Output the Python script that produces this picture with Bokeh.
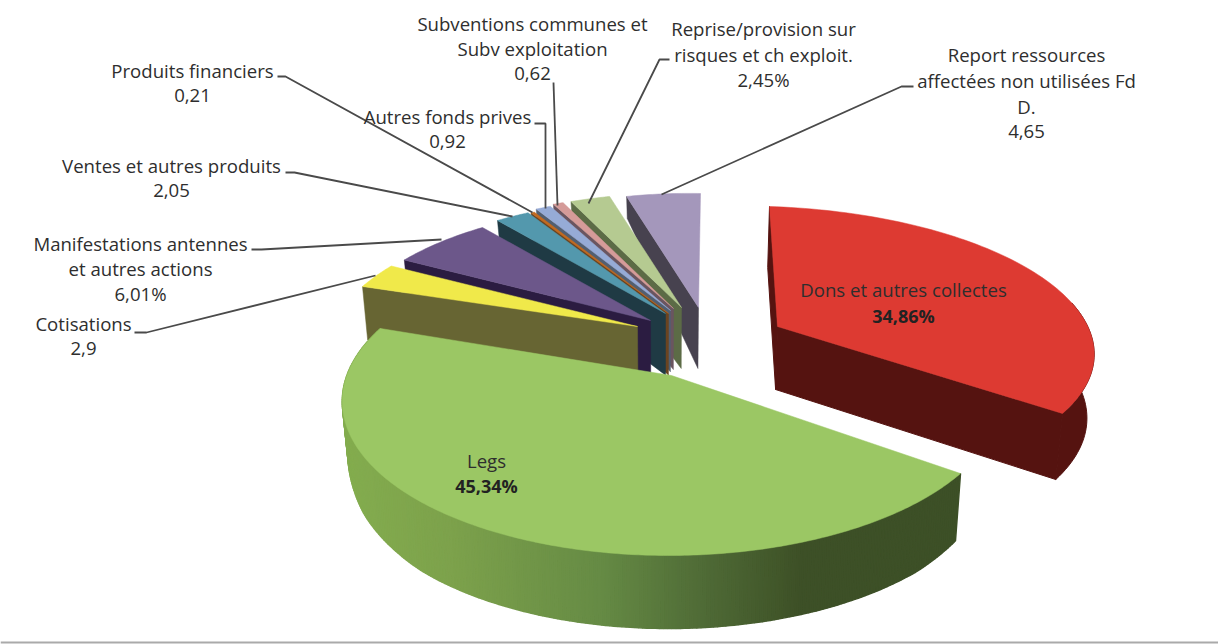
import numpy as np
from bokeh.plotting import figure
from bokeh.models import Range1d
from bokeh.core.properties import value
from bokeh.embed import file_html
from bokeh.resources import INLINE

# ---- data -------------------------------------------------------------
names = ["Dons", "Legs", "Cotisations", "Manifestations", "Ventes", "Produits financiers",
         "Autres fonds", "Subventions", "Reprise", "Report"]
shares = [34.86, 45.34, 2.90, 6.01, 2.05, 0.21, 0.92, 0.62, 2.45, 4.65]
top_colors = ["#dd3a32", "#9bc764", "#f0e94a", "#6c578a", "#5398ad", "#c36a1f",
              "#96abd6", "#d59b99", "#b5ca91", "#a497bb"]
side_colors = ["#551310", "#3d5027", "#676533", "#2b1c41", "#1f3a44", "#6b4420",
               "#525f70", "#6a5560", "#5c6b46", "#47424f"]

# ---- layout (reference pixels) ------------------------------------------
W, H = 1218, 644
cum = np.cumsum([0] + shares) / sum(shares) * 360.0
start = dict(zip(names, cum[:-1]))
end = dict(zip(names, cum[1:]))
idx = {n: i for i, n in enumerate(names)}


def circ(deg):
    t = np.radians(deg)
    return (np.sin(t), np.cos(t))


def fit(pairs):
    A, b = [], []
    for (u, v), (x, y) in pairs:
        A.append([u, v, 1, 0, 0, 0, -u * x, -v * x]); b.append(x)
        A.append([0, 0, 0, u, v, 1, -u * y, -v * y]); b.append(y)
    h = np.linalg.solve(np.array(A, float), np.array(b, float))
    return np.append(h, 1).reshape(3, 3)


def rim(Hm, a0, a1, n):
    t = np.linspace(a0, a1, n)
    u, v = circ(t)
    w = Hm[2, 0] * u + Hm[2, 1] * v + Hm[2, 2]
    return (Hm[0, 0] * u + Hm[0, 1] * v + Hm[0, 2]) / w, (Hm[1, 0] * u + Hm[1, 1] * v + Hm[1, 2]) / w


def drop(x, y, ys, ds):
    return x + 0.017 * (665 - np.asarray(x, float)), y + np.interp(y, ys, ds)


p = figure(width=W, height=H, output_backend="svg", toolbar_location=None,
           x_range=Range1d(0, W), y_range=Range1d(H, 0), x_axis_type=None, y_axis_type=None,
           min_border=0, outline_line_color=None, background_fill_color="white",
           border_fill_color="white")
p.grid.visible = False

# ---- fan of small exploded slices, back to front ------------------------
fan_H = fit([((0, 0), (0, 0)), (circ(end["Legs"]), (-275, -40)),
             (circ(end["Manifestations"]), (-168, -93)), (circ(360), (2, -114))])
fan_apex = {"Cotisations": (637, 326), "Manifestations": (650, 320), "Ventes": (665, 313),
            "Produits financiers": (668, 313), "Autres fonds": (670, 310), "Subventions": (673, 308),
            "Reprise": (681, 307), "Report": (698, 307)}
fan_y, fan_d = [198, 307, 326, 400], [22, 61, 63, 66]
for n in names[:1:-1]:
    i = idx[n]
    ax, ay = fan_apex[n]
    rx, ry = rim(fan_H, start[n], end[n], 24)
    rx, ry = rx + ax, ry + ay
    ends_x, ends_y = np.array([rx[0], ax]), np.array([ry[0], ay])
    bx, by = drop(ends_x, ends_y, fan_y, fan_d)
    p.patch(list(ends_x) + list(bx[::-1]), list(ends_y) + list(by[::-1]),
            fill_color=side_colors[i], line_color=side_colors[i], line_width=0.5)
    p.patch([ax] + list(rx), [ay] + list(ry), fill_color=top_colors[i], line_color=top_colors[i], line_width=0.5)

# ---- Dons ---------------------------------------------------------------
n = "Dons"
dons_H = fit([((0, 0), (777, 326)), (circ(start[n]), (769, 206)),
              (circ(90), (1089, 330)), (circ(end[n]), (1062, 413))])
rx, ry = rim(dons_H, start[n], end[n], 90)
ay0, ax0 = 326, 777
d_y, d_d = [206, 326, 413], [61, 63, 66]
bx, by = drop(rx, ry, d_y, d_d)
bax, bay = drop(np.array([ax0]), np.array([ay0]), d_y, d_d)
p.patch([rx[0], ax0, bax[0], bx[0]], [ry[0], ay0, bay[0], by[0]],
        fill_color=side_colors[0], line_color=side_colors[0], line_width=1)
p.patch([ax0, rx[-1], bx[-1], bax[0]], [ay0, ry[-1], by[-1], bay[0]],
        fill_color=side_colors[0], line_color=side_colors[0], line_width=1)
keep = ry > 300
p.patch(list(rx[keep]) + list(bx[keep][::-1]), list(ry[keep]) + list(by[keep][::-1]),
        fill_color=side_colors[0], line_color=side_colors[0], line_width=1)
p.patch([ax0] + list(rx), [ay0] + list(ry), fill_color=top_colors[0], line_color=top_colors[0], line_width=0.5)

# ---- Legs with its shaded outer wall ------------------------------------
n = "Legs"
legs_H = fit([((0, 0), (671, 375)), (circ(start[n]), (960, 473)),
              (circ(180), (665, 555)), (circ(end[n]), (380, 328))])
rx, ry = rim(legs_H, start[n], end[n], 260)
l_y, l_d = [330, 400, 450, 500, 555], [32, 50, 64, 71, 73]
bx, by = drop(rx, ry, l_y, l_d)
grad_x = [340, 450, 600, 700, 800, 960]
grad_c = np.array([[0x84, 0xad, 0x4f], [0x7d, 0xa2, 0x4c], [0x66, 0x8b, 0x45],
                   [0x50, 0x6c, 0x37], [0x3e, 0x51, 0x27], [0x3d, 0x50, 0x27]], float)
qx, qy, qc = [], [], []
for k in range(len(rx) - 1):
    qx.append([rx[k], rx[k + 1], bx[k + 1], bx[k]])
    qy.append([ry[k], ry[k + 1], by[k + 1], by[k]])
    mx = (rx[k] + rx[k + 1]) / 2
    c = [int(np.interp(mx, grad_x, grad_c[:, j])) for j in range(3)]
    qc.append("#%02x%02x%02x" % tuple(c))
p.patches(qx, qy, fill_color=qc, line_color=qc, line_width=1.5)
p.patch([671] + list(rx), [375] + list(ry), fill_color=top_colors[1], line_color=top_colors[1], line_width=0.5)

# ---- leader lines -------------------------------------------------------
leaders = [
    ([277, 285, 532], [76, 76, 212]),
    ([534, 545, 545], [123, 123, 208]),
    ([553, 557], [82, 205]),
    ([285, 294, 512], [172, 172, 216]),
    ([251, 261, 441], [249, 249, 239]),
    ([134, 146, 375], [332, 332, 275]),
    ([669, 659, 588], [59, 59, 203]),
    ([913, 901, 661], [86, 86, 194]),
]
for lx, ly in leaders:
    p.line(lx, ly, line_color="#4a4a4a", line_width=1.8)

# ---- texts --------------------------------------------------------------
labels = [
    (192, 70, "Produits financiers"), (192, 95, "0,21"),
    (532, 23, "Subventions communes et"), (532, 48, "Subv exploitation"), (532, 73, "0,62"),
    (447, 116, "Autres fonds prives"), (447, 141, "0,92"),
    (171, 165, "Ventes et autres produits"), (171, 190, "2,05"),
    (140, 243, "Manifestations antennes"), (140, 268, "et autres actions"), (140, 293, "6,01%"),
    (83, 323, "Cotisations"), (83, 348, "2,9"),
    (763, 28, "Reprise/provision sur"), (763, 54, "risques et ch exploit."), (763, 79, "2,45%"),
    (1026, 54, "Report ressources"), (1026, 80, "affectées non utilisées Fd"), (1026, 106, "D."), (1026, 131, "4,65"),
    (903, 289, "Dons et autres collectes"), (486, 460, "Legs"),
]
bold_labels = [(903, 315, "34,86%"), (486, 485, "45,34%")]
p.text([a[0] for a in labels], [a[1] for a in labels], text=[a[2] for a in labels],
       text_align="center", text_baseline="middle", text_font=value("Open Sans"),
       text_font_size="18.6px", text_color="#2e2e2e")
p.text([a[0] for a in bold_labels], [a[1] for a in bold_labels], text=[a[2] for a in bold_labels],
       text_align="center", text_baseline="middle", text_font=value("Open Sans"),
       text_font_size="18px", text_font_style="bold", text_color="#222222")

# screenshot edge
p.line([0, W], [642, 642], line_color="#aaaaaa", line_width=2)

open("out.html", "w").write(file_html(p, INLINE))
